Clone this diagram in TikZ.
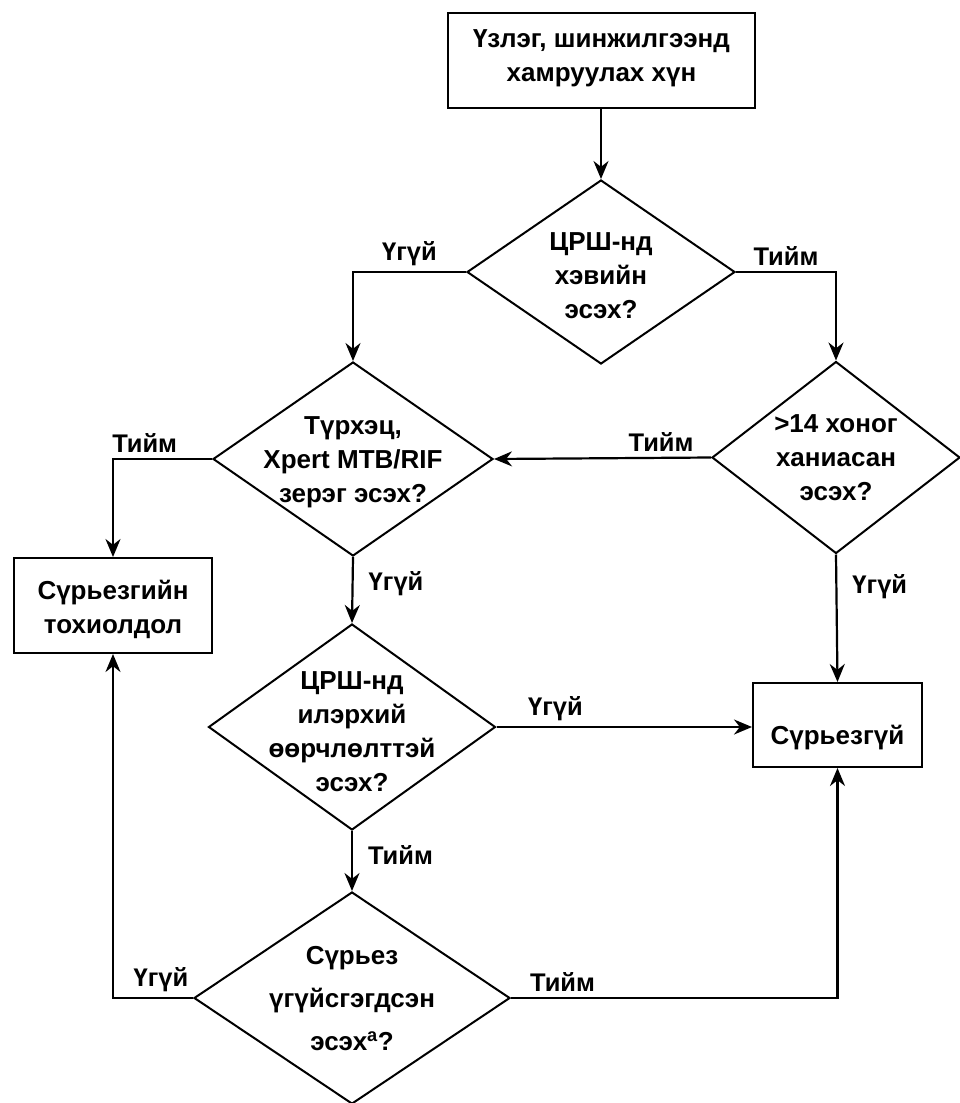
\documentclass[tikz,border=0pt]{standalone}
\usepackage{fontspec}
\setmainfont{Liberation Sans}
\usetikzlibrary{shapes.geometric,arrows.meta}

\tikzset{
  box/.style={draw, line width=2pt, inner sep=0pt},
  decision/.style={diamond, draw, line width=2pt, inner sep=0pt},
  txt/.style={align=center, font=\bfseries\fontsize{26}{34}\selectfont},
  lbl/.style={font=\bfseries\fontsize{25.5}{30}\selectfont, inner sep=5pt},
  flow/.style={line width=2.2pt, -{Stealth[length=18pt,width=15pt]}},
}

\begin{document}
\begin{tikzpicture}[x=1pt,y=-1pt]
    \useasboundingbox[fill=white] (0,0) rectangle (960,1103);

    % boxes
    \node[box, minimum width=307pt, minimum height=95pt] (start) at (601.5,60.5) {};
    \node[box, minimum width=198pt, minimum height=95pt] (tbcase) at (113,605.5) {};
    \node[box, minimum width=169pt, minimum height=84pt] (notb) at (837.5,725) {};

    % decisions
    \node[decision, minimum width=268pt, minimum height=184pt] (cxr) at (601,272) {};
    \node[decision, minimum width=280pt, minimum height=194pt] (smear) at (353,459) {};
    \node[decision, minimum width=248pt, minimum height=192pt] (cough) at (836,457.5) {};
    \node[decision, minimum width=287pt, minimum height=206pt] (abn) at (352,727) {};
    \node[decision, minimum width=316pt, minimum height=212pt] (excl) at (352,998) {};

    % texts
    \node[txt] (startText) at ([yshift=2pt]start.center) {Үзлэг, шинжилгээнд\\хамруулах хүн};
    \node[txt] (tbcaseText) at ([yshift=-4pt]tbcase.center) {Сүрьезгийн\\тохиолдол};
    \node[txt] (notbText) at ([yshift=-13pt]notb.center) {Сүрьезгүй};
    \node[txt] (cxrText) at ([yshift=-4pt]cxr.center) {ЦРШ-нд\\хэвийн\\эсэх?};
    \node[txt] (smearText) at ([yshift=-3pt]smear.center) {Түрхэц,\\Xpert MTB/RIF\\зерэг эсэх?};
    \node[txt] (coughText) at (cough.center) {>14 хоног\\ханиасан\\эсэх?};
    \node[txt] (abnText) at ([yshift=-5pt]abn.center) {ЦРШ-нд\\илэрхий\\өөрчлөлттэй\\эсэх?};
    \node[txt] (exclText) at ([yshift=-1pt]excl.center) {Сүрьез\\[9pt]үгүйсгэгдсэн\\[9pt]эсэх\textsuperscript{a}?};

    % connectors
    \draw[flow] (start.south -| cxr) -- (cxr.north);
    \draw[flow] (cxr.west) -| (smear.north) node[lbl, pos=0.25, above] {Үгүй};
    \draw[flow] (cxr.east) -| (cough.north) node[lbl, pos=0.25, above] {Тийм};
    \draw[flow] (smear.west) -| (tbcase.north) node[lbl, pos=0.34, above] {Тийм};
    \draw[flow] (cough.west) -- (smear.east) node[lbl, pos=0.23, above] {Тийм};
    \draw[flow] (smear.south) -- (abn.north) node[lbl, pos=0.4, right, xshift=10pt] {Үгүй};
    \draw[flow] (cough.south) -- (notb.north) node[lbl, pos=0.25, right, xshift=10pt] {Үгүй};
    \draw[flow] (abn.east) -- (abn.east -| notb.west) node[lbl, pos=0.1, above right] {Үгүй};
    \draw[flow] (abn.south) -- (excl.north) node[lbl, pos=0.4, right, xshift=10pt] {Тийм};
    \draw[flow] (excl.west) -| (tbcase.south) node[lbl, pos=0.2, above] {Үгүй};
    \draw[flow] (excl.east) -| (notb.south) node[lbl, pos=0.02, above right] {Тийм};
\end{tikzpicture}
\end{document}
